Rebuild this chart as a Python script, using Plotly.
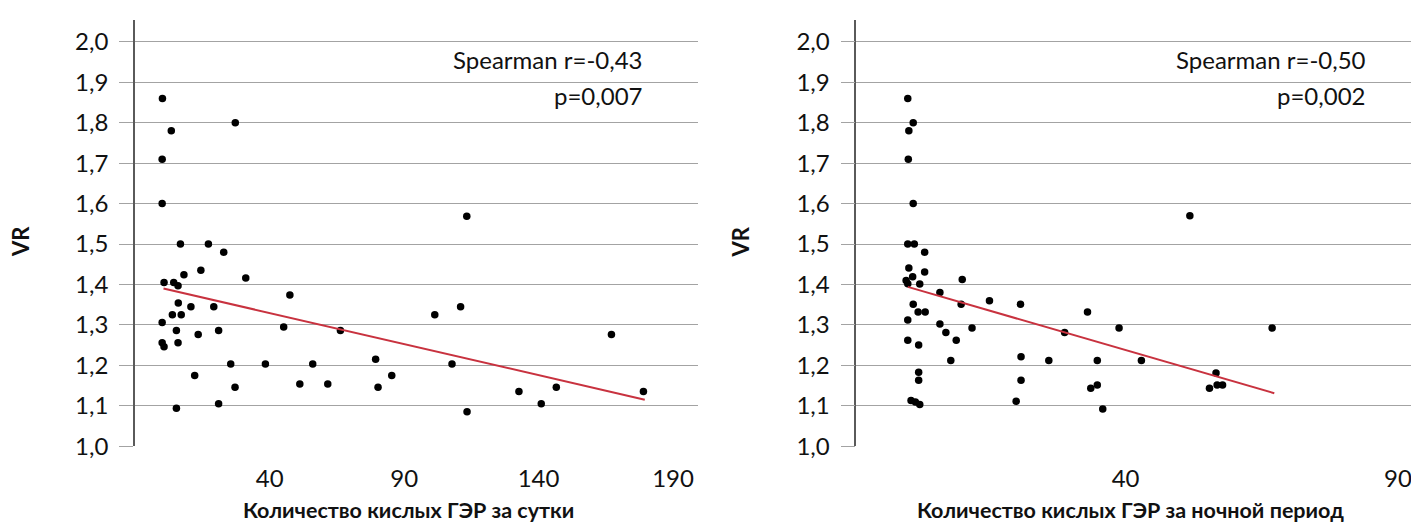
import plotly.graph_objects as go

# ---- Left panel: acid GER per day vs VR ----
day_x = [0.1, 3.4, 27.2, 0.0, 0.0, 6.8, 17.2, 22.9, 0.7, 4.3, 5.9, 8.1, 14.4, 31.1, 47.5,
         6.0, 10.7, 19.2, 0.0, 3.8, 7.1, 5.3, 21.0, 45.2, 66.3, 13.4, 0.0, 0.7, 5.9, 12.1,
         25.5, 38.4, 56.0, 27.1, 51.2, 61.6, 21.0, 5.3, 79.4, 80.3, 85.4, 101.4, 111.0,
         107.8, 113.4, 132.7, 141.0, 146.6, 167.1, 179.0, 113.3]
day_y = [1.86, 1.78, 1.80, 1.71, 1.60, 1.50, 1.50, 1.48, 1.405, 1.405, 1.397, 1.424, 1.435,
         1.416, 1.374, 1.354, 1.345, 1.345, 1.306, 1.325, 1.325, 1.286, 1.286, 1.295, 1.286,
         1.276, 1.256, 1.246, 1.256, 1.175, 1.203, 1.203, 1.203, 1.146, 1.154, 1.154, 1.105,
         1.094, 1.215, 1.146, 1.175, 1.325, 1.345, 1.203, 1.085, 1.135, 1.105, 1.146, 1.276,
         1.135, 1.569]
day_fit_x = [0.5, 179.5]
day_fit_y = [1.39, 1.115]

# ---- Right panel: acid GER at night vs VR ----
night_x = [0.0, 1.0, 0.2, 0.1, 1.0, 0.0, 1.2, 3.1, 0.2, 3.1, 0.9, -0.3, 0.0, 2.2, 10.0, 5.9,
           1.0, 9.8, 15.0, 20.7, 1.9, 3.2, 0.0, 5.9, 7.0, 11.8, 0.0, 8.9, 2.0, 7.9, 20.8,
           25.9, 28.8, 2.0, 2.0, 20.8, 0.6, 1.4, 2.2, 19.9, 33.0, 38.8, 34.8, 42.9, 33.6,
           34.8, 35.8, 56.6, 55.4, 56.8, 57.8, 66.9, 51.8]
night_y = [1.86, 1.80, 1.78, 1.71, 1.60, 1.50, 1.50, 1.48, 1.441, 1.431, 1.419, 1.410, 1.402,
           1.401, 1.412, 1.38, 1.351, 1.351, 1.36, 1.351, 1.332, 1.332, 1.312, 1.302, 1.281,
           1.292, 1.262, 1.262, 1.25, 1.212, 1.221, 1.212, 1.281, 1.183, 1.163, 1.163, 1.113,
           1.109, 1.103, 1.111, 1.332, 1.292, 1.212, 1.212, 1.143, 1.151, 1.092, 1.181, 1.143,
           1.151, 1.151, 1.292, 1.57]
night_fit_x = [0.0, 67.3]
night_fit_y = [1.394, 1.131]

y_ticks = [1.0, 1.1, 1.2, 1.3, 1.4, 1.5, 1.6, 1.7, 1.8, 1.9, 2.0]
y_tick_text = ["1,0", "1,1", "1,2", "1,3", "1,4", "1,5", "1,6", "1,7", "1,8", "1,9", "2,0"]
day_x_ticks = [40, 90, 140, 190]
night_x_ticks = [40, 90]

FONT = "Lato, Roboto, sans-serif"
TFONT = "Lato, Roboto, sans-serif"
LINE_RED = "#c8323f"

fig = go.Figure()
fig.add_trace(go.Scatter(x=day_x, y=day_y, mode="markers", xaxis="x", yaxis="y",
                         marker=dict(color="black", size=7.5), showlegend=False))
fig.add_trace(go.Scatter(x=day_fit_x, y=day_fit_y, mode="lines", xaxis="x", yaxis="y",
                         line=dict(color=LINE_RED, width=2), showlegend=False))
fig.add_trace(go.Scatter(x=night_x, y=night_y, mode="markers", xaxis="x2", yaxis="y2",
                         marker=dict(color="black", size=7.5), showlegend=False))
fig.add_trace(go.Scatter(x=night_fit_x, y=night_fit_y, mode="lines", xaxis="x2", yaxis="y2",
                         line=dict(color=LINE_RED, width=2), showlegend=False))

W, H = 1419, 524
ydom = [(H - 449.3) / H, (H - 12) / H]
xdom1 = [127 / W, 690 / W]
xdom2 = [848.3 / W, 1411.7 / W]

common_x = dict(showgrid=False, zeroline=False, showline=False, ticks="outside",
                ticklen=11, tickcolor="rgba(0,0,0,0)", tickfont=dict(family=FONT, size=24, color="#111"),
                tickmode="array")
common_y = dict(showgrid=True, gridcolor="#a3a3a3", gridwidth=1.3, zeroline=False,
                showline=True, linecolor="#5a5a5a", linewidth=1.6, ticks="outside",
                ticklen=14, tickcolor="#a3a3a3", tickwidth=1.3, range=[1.0, 2.055],
                tickmode="array", tickvals=y_ticks, ticktext=y_tick_text, ticklabelstandoff=6,
                tickfont=dict(family=FONT, size=24, color="#111"), domain=ydom)

fig.update_layout(
    width=W, height=H, margin=dict(l=0, r=0, t=0, b=0),
    paper_bgcolor="white", plot_bgcolor="white",
    xaxis=dict(domain=xdom1, range=[-10.1, 199.3], tickvals=day_x_ticks,
               ticktext=[str(v) for v in day_x_ticks], anchor="y", **common_x),
    yaxis=dict(anchor="x", **common_y),
    xaxis2=dict(domain=xdom2, range=[-9.45, 94.0], tickvals=night_x_ticks,
                ticktext=[str(v) for v in night_x_ticks], anchor="y2", **common_x),
    yaxis2=dict(anchor="x2", **common_y),
)

ann_font = dict(family=FONT, size=24, color="#111")
title_font = dict(family=TFONT, size=21.5, color="#111")
anns = [
    dict(text="Spearman r=-0,43", x=637 / W, y=1 - 53 / H, xanchor="right", yanchor="middle", font=ann_font),
    dict(text="p=0,007", x=637 / W, y=1 - 90 / H, xanchor="right", yanchor="middle", font=ann_font),
    dict(text="Spearman r=-0,50", x=1360 / W, y=1 - 53 / H, xanchor="right", yanchor="middle", font=ann_font),
    dict(text="p=0,002", x=1360 / W, y=1 - 90 / H, xanchor="right", yanchor="middle", font=ann_font),
    dict(text="<b>Количество кислых ГЭР за сутки</b>", x=400 / W, y=1 - 514.5 / H,
         xanchor="center", yanchor="middle", font=title_font),
    dict(text="<b>Количество кислых ГЭР за ночной период</b>", x=1122 / W, y=1 - 514.5 / H,
         xanchor="center", yanchor="middle", font=title_font),
    dict(text="<b>VR</b>", x=12 / W, y=1 - 240 / H, textangle=-90,
         xanchor="center", yanchor="middle", font=dict(family=TFONT, size=22, color="#111")),
    dict(text="<b>VR</b>", x=732.5 / W, y=1 - 240 / H, textangle=-90,
         xanchor="center", yanchor="middle", font=dict(family=TFONT, size=22, color="#111")),
]
for a in anns:
    a.update(xref="paper", yref="paper", showarrow=False)
fig.update_layout(annotations=anns)

fig.write_html("out.html")
